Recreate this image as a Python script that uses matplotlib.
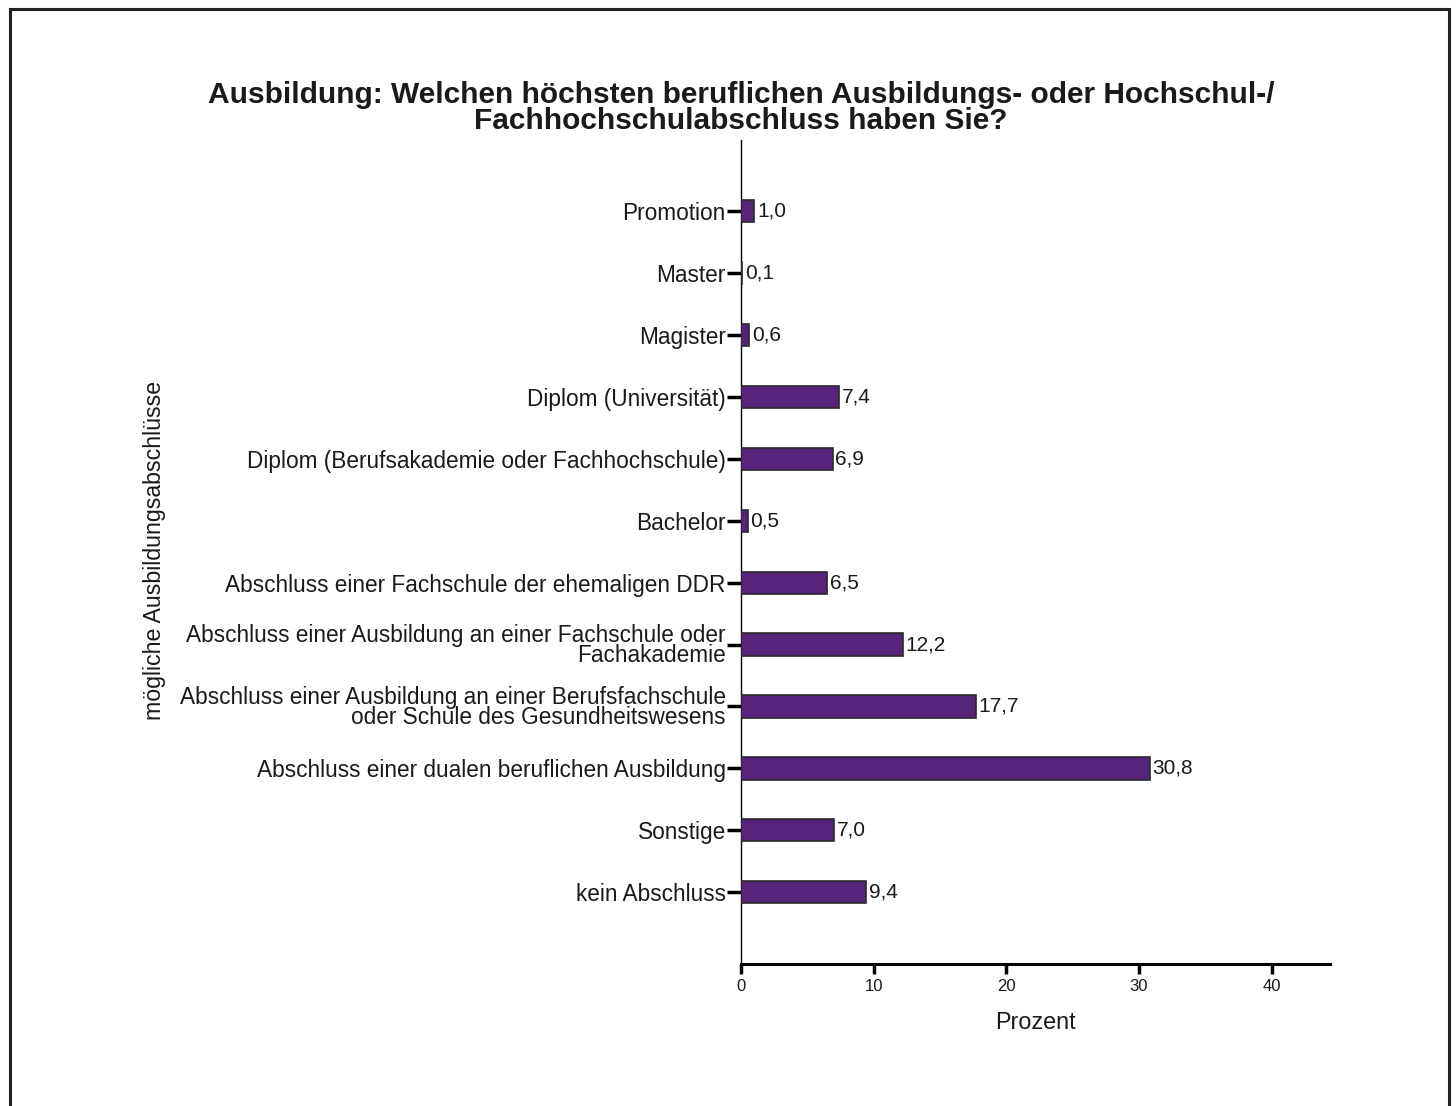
import matplotlib.pyplot as plt
from matplotlib.patches import Rectangle

plt.rcParams['font.family'] = ['Liberation Sans', 'DejaVu Sans']

# categories from top to bottom
CATEGORIES = ['Promotion',
              'Master',
              'Magister',
              'Diplom (Universität)',
              'Diplom (Berufsakademie oder Fachhochschule)',
              'Bachelor',
              'Abschluss einer Fachschule der ehemaligen DDR',
              'Abschluss einer Ausbildung an einer Fachschule oder\nFachakademie',
              'Abschluss einer Ausbildung an einer Berufsfachschule\noder Schule des Gesundheitswesens',
              'Abschluss einer dualen beruflichen Ausbildung',
              'Sonstige',
              'kein Abschluss']
PERCENT = [1.0, 0.1, 0.6, 7.4, 6.9, 0.5, 6.5, 12.2, 17.7, 30.8, 7.0, 9.4]
XTICKS = [0, 10, 20, 30, 40]

TITLE = ('Ausbildung: Welchen höchsten beruflichen Ausbildungs- oder Hochschul-/\n'
         'Fachhochschulabschluss haben Sie?')

fig = plt.figure(figsize=(14.56, 11.06), dpi=100)
ax = fig.add_axes([0.509, 0.1284, 0.4045, 0.745])

n = len(CATEGORIES)
ypos = list(range(n))
ax.barh(ypos, PERCENT, height=0.36, color='#56237a', edgecolor='#2a2a2a',
        linewidth=1.2, zorder=3)
for y, v in zip(ypos, PERCENT):
    ax.annotate(('%.1f' % v).replace('.', ','), (v, y), xytext=(2, 0),
                textcoords='offset points', va='center', ha='left', fontsize=15,
                color='#1a1a1a')

ax.set_yticks(ypos)
ax.set_yticklabels(CATEGORIES, fontsize=16.3, color='#1a1a1a', linespacing=0.85)
ax.set_ylim(n - 1 + 1.16, -1.15)
ax.set_xlim(0, 44.4)
ax.set_xticks(XTICKS)
ax.set_xticklabels([str(t) for t in XTICKS], fontsize=12, color='#1a1a1a')

ax.spines['top'].set_visible(False)
ax.spines['right'].set_visible(False)
ax.spines['left'].set_linewidth(1.0)
ax.spines['bottom'].set_linewidth(2.2)
ax.tick_params(axis='y', length=10, width=2.5, pad=1)
ax.tick_params(axis='x', length=7, width=2.5, pad=4)

ax.set_xlabel('Prozent', fontsize=16.8, labelpad=12, color='#1a1a1a')
fig.text(0.106, 0.502, 'mögliche Ausbildungsabschlüsse', rotation=90,
         ha='center', va='center', fontsize=16.7, color='#1a1a1a')
fig.text(0.509, 0.902, TITLE, ha='center', va='center', fontsize=21.5,
         fontweight='bold', color='#1a1a1a', linespacing=0.9)

# frame around the chart
fig.patches.append(Rectangle((0.0069, -0.02), 0.9883, 1.0119, fill=False,
                             edgecolor='#222222', linewidth=2.2,
                             transform=fig.transFigure, figure=fig))

plt.savefig('out.png', dpi=100)
